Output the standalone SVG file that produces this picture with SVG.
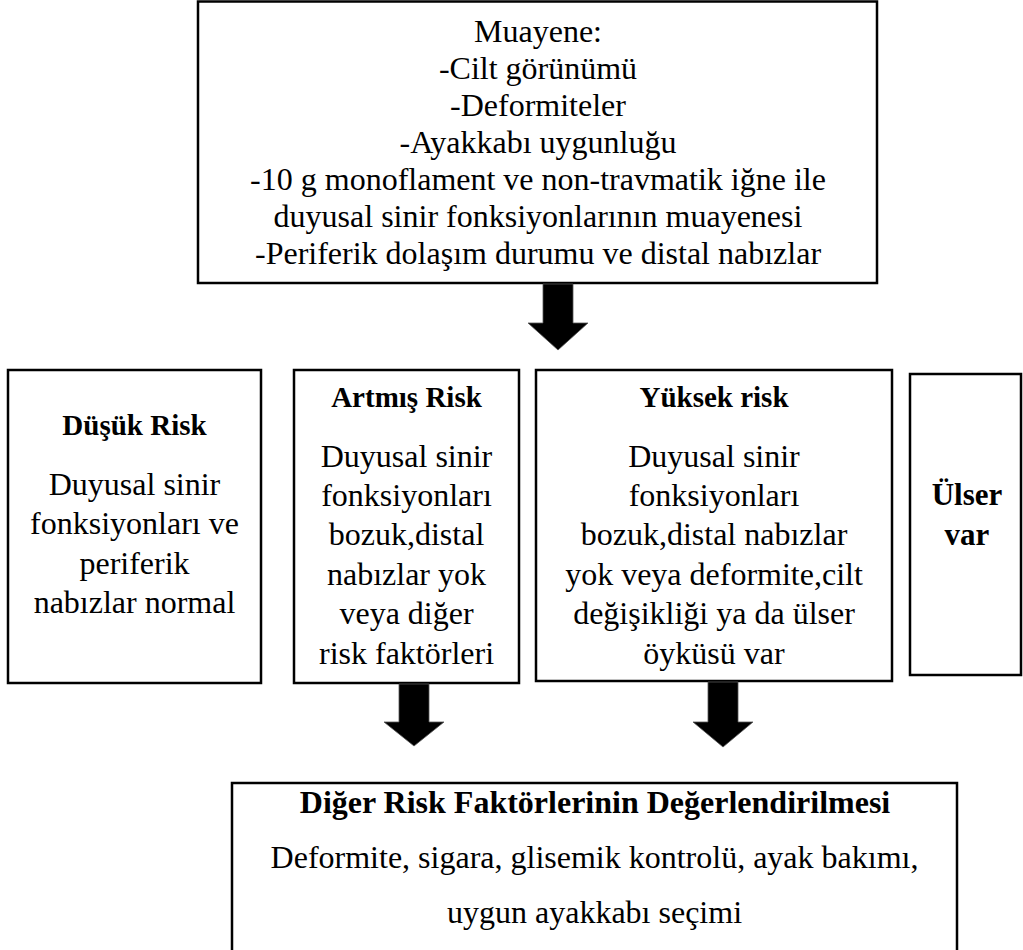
<svg xmlns="http://www.w3.org/2000/svg" width="1023" height="950" viewBox="0 0 1023 950">
<style>
.box{fill:#fff;stroke:#000;stroke-width:2.5}
text{font-family:"Liberation Serif","Times New Roman",serif;fill:#000;text-anchor:middle}
.t{font-size:32px}
.h{font-size:29px;font-weight:bold}
.hb{font-size:31px;font-weight:bold}
.ht{font-size:32px;font-weight:bold}
.arr{fill:#000;stroke:#555;stroke-width:0.8}
</style>
<rect width="1023" height="950" fill="#fff"/>
<g id="muayene">
<rect class="box" x="198" y="1.5" width="679" height="281.5"/>
<text class="t" x="538" y="42">Muayene:</text>
<text class="t" x="538" y="79">-Cilt görünümü</text>
<text class="t" x="538" y="116">-Deformiteler</text>
<text class="t" x="538" y="153">-Ayakkabı uygunluğu</text>
<text class="t" x="538" y="190">-10 g monoflament ve non-travmatik iğne ile</text>
<text class="t" x="538" y="227">duyusal sinir fonksiyonlarının muayenesi</text>
<text class="t" x="538" y="264">-Periferik dolaşım durumu ve distal nabızlar</text>
</g>
<g id="dusuk">
<rect class="box" x="8" y="370" width="253" height="313"/>
<text class="h" x="134.5" y="435">Düşük Risk</text>
<text class="t" x="134.5" y="495">Duyusal sinir</text>
<text class="t" x="134.5" y="534">fonksiyonları ve</text>
<text class="t" x="134.5" y="574">periferik</text>
<text class="t" x="134.5" y="613">nabızlar normal</text>
</g>
<g id="artmis">
<rect class="box" x="294" y="370" width="225" height="313"/>
<text class="h" x="406.5" y="407">Artmış Risk</text>
<text class="t" x="406.5" y="467">Duyusal sinir</text>
<text class="t" x="406.5" y="506">fonksiyonları</text>
<text class="t" x="406.5" y="545">bozuk,distal</text>
<text class="t" x="406.5" y="585">nabızlar yok</text>
<text class="t" x="406.5" y="624">veya diğer</text>
<text class="t" x="406.5" y="664">risk faktörleri</text>
</g>
<g id="yuksek">
<rect class="box" x="536" y="370" width="356" height="311"/>
<text class="h" x="714" y="407">Yüksek risk</text>
<text class="t" x="714" y="467">Duyusal sinir</text>
<text class="t" x="714" y="506">fonksiyonları</text>
<text class="t" x="714" y="545">bozuk,distal nabızlar</text>
<text class="t" x="714" y="585">yok veya deformite,cilt</text>
<text class="t" x="714" y="624">değişikliği ya da ülser</text>
<text class="t" x="714" y="664">öyküsü var</text>
</g>
<g id="ulser">
<rect class="box" x="910" y="374" width="111" height="301"/>
<text class="hb" x="967" y="505">Ülser</text>
<text class="hb" x="967" y="545">var</text>
</g>
<g id="diger">
<rect class="box" x="232" y="783" width="725" height="200"/>
<text class="ht" x="595" y="813">Diğer Risk Faktörlerinin Değerlendirilmesi</text>
<text class="t" x="594.5" y="868">Deformite, sigara, glisemik kontrolü, ayak bakımı,</text>
<text class="t" x="594.5" y="923">uygun ayakkabı seçimi</text>
</g>
<g id="connectors">
<polygon class="arr" points="543,284 573,284 573,323 588,323 558,350 528,323 543,323"/>
<polygon class="arr" points="399,684 429,684 429,722 444,722 414,746 384,722 399,722"/>
<polygon class="arr" points="708,682 738,682 738,722 753,722 723,747 693,722 708,722"/>
</g>
</svg>
